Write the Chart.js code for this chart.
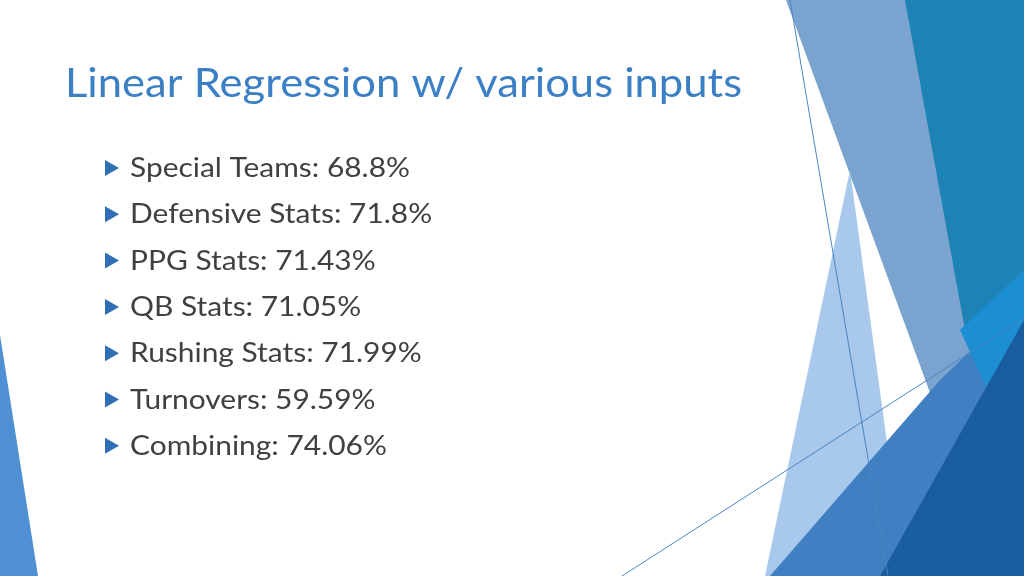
<!DOCTYPE html>
<html><head><meta charset="utf-8">
<script src="https://cdn.jsdelivr.net/npm/chart.js@4/dist/chart.umd.min.js"></script>
<style>html,body{margin:0;padding:0;background:#fff}#w{width:1024px;height:576px}</style>
</head><body><div id="w"><canvas id="c"></canvas></div>
<script>
const title = "Linear Regression w/ various inputs";
const categories = ["Special Teams","Defensive Stats","PPG Stats","QB Stats","Rushing Stats","Turnovers","Combining"];
const values = ["68.8","71.8","71.43","71.05","71.99","59.59","74.06"];

const slidePlugin = {
  id: 'slide',
  beforeDraw(chart){
    const ctx = chart.ctx;
    ctx.save();
    ctx.fillStyle = '#fff'; ctx.fillRect(0,0,1024,576);
    const poly = (pts,col)=>{ctx.beginPath();ctx.moveTo(pts[0][0],pts[0][1]);for(const p of pts.slice(1))ctx.lineTo(p[0],p[1]);ctx.closePath();ctx.fillStyle=col;ctx.fill();};
    poly([[0,335],[0,576],[38,576]],'#4f90d2');
    poly([[786,0],[1024,0],[1024,250],[940,420]],'#7ba3cf');
    poly([[905,0],[1024,0],[1024,300],[965,330]],'#1d82b5');
    poly([[850,170],[905,576],[765,576]],'#a8c9ec');
    poly([[940,380],[1024,300],[1024,576],[770,576]],'#3f7fc2');
    poly([[960,330],[1024,270],[1024,470]],'#1c8fd2');
    poly([[1024,320],[880,576],[1024,576]],'#1a5d9e');
    ctx.strokeStyle='#4a86c2';ctx.lineWidth=1;
    ctx.beginPath();ctx.moveTo(790,0);ctx.lineTo(888,576);ctx.stroke();
    ctx.beginPath();ctx.moveTo(622,576);ctx.lineTo(1024,318);ctx.stroke();
    ctx.restore();
  },
  afterDraw(chart){
    const ctx = chart.ctx;
    ctx.save();
    ctx.textBaseline='alphabetic';
    ctx.fillStyle='#3b7fc4';
    ctx.font='40px Lato';
    let w=ctx.measureText(title).width;
    ctx.save();ctx.translate(65,97);ctx.scale(677/w,1);ctx.fillText(title,0,0);ctx.restore();
    ctx.font='26px Lato';
    const first = categories[0]+': '+values[0]+'%';
    const s = 280/ctx.measureText(first).width;
    categories.forEach((c,i)=>{
      const y = 168 + i*46.3;
      ctx.fillStyle='#2e6fb5';
      ctx.beginPath();ctx.moveTo(105,y-8);ctx.lineTo(119,y);ctx.lineTo(105,y+8);ctx.closePath();ctx.fill();
      ctx.fillStyle='#404040';
      ctx.save();ctx.translate(130,y+9);ctx.scale(s,1);ctx.fillText(c+': '+values[i]+'%',0,0);ctx.restore();
    });
    ctx.restore();
  }
};
new Chart(document.getElementById('c'),{
  type:'bar',
  data:{labels:categories,datasets:[{data:values.map(Number),backgroundColor:'rgba(0,0,0,0)'}]},
  options:{responsive:true,maintainAspectRatio:false,animation:false,
    plugins:{legend:{display:false},tooltip:{enabled:false}},
    scales:{x:{display:false},y:{display:false,min:0,max:100}}},
  plugins:[slidePlugin]
});
</script></body></html>
